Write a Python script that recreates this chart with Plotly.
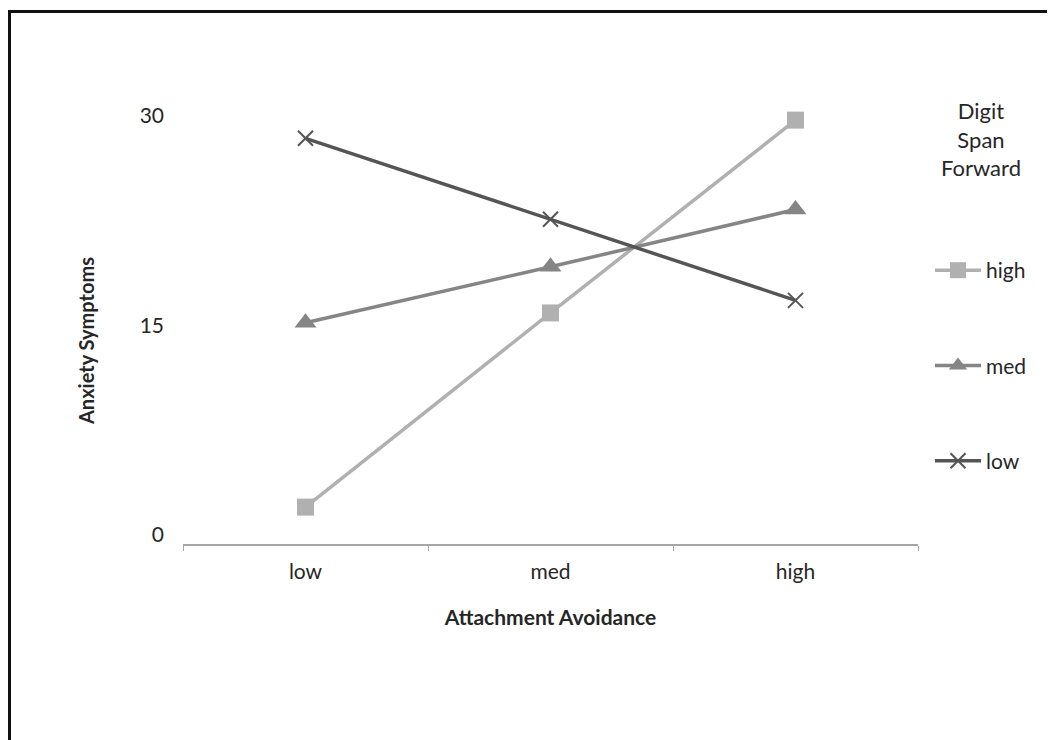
import plotly.graph_objects as go

categories = ["low", "med", "high"]
series_names = ["high", "med", "low"]
values_high = [2.0, 15.9, 29.7]
values_med = [15.2, 19.2, 23.3]
values_low = [28.4, 22.6, 16.8]
y_ticks = [0, 15, 30]

FONT = "Lato"
OFF = 8  # page body margin
FW, FH = 1055 - OFF, 740 - OFF
L = 183 - OFF
T = 88 - OFF
R = FW - (918 - OFF)
B = FH - (544 - OFF)
W, H = FW - L - R, FH - T - B

fig = go.Figure()
styles = [
    dict(color="#B0B0B0", symbol="square", size=17, lw=3.5),
    dict(color="#858585", symbol="triangle-up", size=19, lw=3.5),
    dict(color="#555555", symbol="x-thin", size=15, lw=3.5),
]
for i, (name, vals, st) in enumerate(zip(series_names, [values_high, values_med, values_low], styles)):
    marker = dict(symbol=st["symbol"], size=st["size"], color=st["color"])
    if st["symbol"] == "x-thin":
        marker["line"] = dict(color=st["color"], width=2)
    fig.add_trace(go.Scatter(
        x=categories, y=vals, name=name, mode="lines+markers",
        line=dict(color=st["color"], width=st["lw"]),
        marker=marker, legendgroup=f"g{i}", showlegend=True,
    ))

def px_x(px):
    return (px - OFF - L) / W

def px_y(py):
    return (FH - B - (py - OFF)) / H

fig.update_layout(
    width=FW, height=FH,
    margin=dict(l=L, r=R, t=T, b=B, pad=0),
    paper_bgcolor="white", plot_bgcolor="white",
    font=dict(family=FONT, size=21, color="#262626"),
    showlegend=True,
    legend=dict(
        x=px_x(930), y=px_y(250), xanchor="left", yanchor="top",
        traceorder="grouped", tracegroupgap=65,
        font=dict(family=FONT, size=21, color="#262626"),
        bgcolor="rgba(0,0,0,0)", itemwidth=46,
    ),
    xaxis=dict(
        type="category", range=[-0.5, 2.5], showline=True, linecolor="#A6A6A6", linewidth=1.5,
        ticks="outside", ticklen=5, tickcolor="#A6A6A6", tickwidth=1, tickson="boundaries",
        showgrid=False, zeroline=False, ticklabelstandoff=8,
        title=dict(text="<b>Attachment Avoidance</b>", standoff=28, font=dict(size=21)),
    ),
    yaxis=dict(
        range=[-0.64, 32.0], tickvals=y_ticks, showline=False, showgrid=False, zeroline=False,
        ticks="", ticklabelstandoff=18,
    ),
    annotations=[
        dict(
            text="Digit<br>Span<br>Forward", x=px_x(981), y=px_y(139), xref="paper", yref="paper",
            xanchor="center", yanchor="middle", showarrow=False, align="center",
            font=dict(family=FONT, size=22, color="#262626"),
        ),
        dict(
            text="<b>Anxiety Symptoms</b>", x=px_x(86), y=px_y(341), xref="paper", yref="paper",
            xanchor="center", yanchor="middle", showarrow=False, textangle=-90,
            font=dict(family=FONT, size=20, color="#262626"),
        ),
    ],
    shapes=[dict(
        type="rect", xref="paper", yref="paper",
        x0=px_x(9.5), x1=px_x(1200), y0=px_y(900), y1=px_y(11.5),
        line=dict(color="#111111", width=3), fillcolor="rgba(0,0,0,0)", layer="below",
    )],
)

fig.write_html("out.html")
